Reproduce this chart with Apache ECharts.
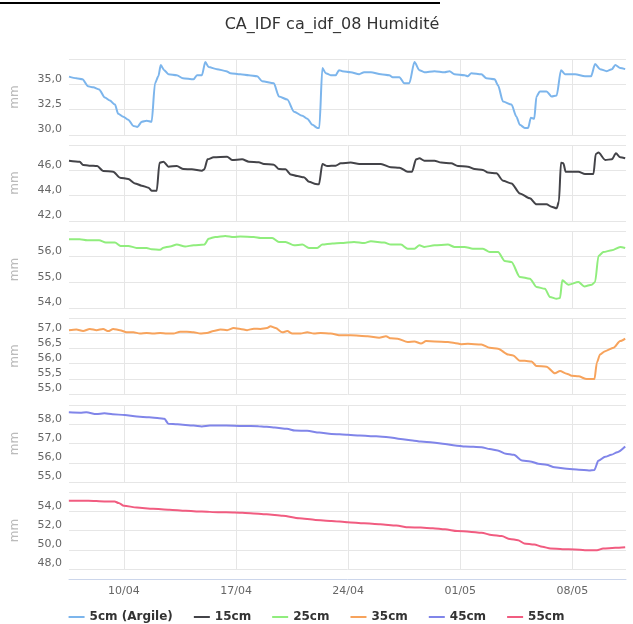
<!DOCTYPE html>
<html><head><meta charset="utf-8">
<script src="https://cdn.jsdelivr.net/npm/echarts@6/dist/echarts.min.js"></script>
<style>html,body{margin:0;padding:0;background:#fff}#c{width:633px;height:624px}</style>
</head><body><div id="c"></div>
<script>
// x values are days since 06/04 00:00
const seriesNames = ['5cm (Argile)', '15cm', '25cm', '35cm', '45cm', '55cm'];
const tickDays = [4, 11, 18, 25, 32];
const tickLabels = ['10/04', '17/04', '24/04', '01/05', '08/05'];
const dayMin = 0.57, dayMax = 35.35;

const yMin = [30, 42, 54, 55, 55, 48];
const yMax = [37.5, 48, 57, 57.5, 59, 56];
const yStep = [2.5, 2, 1, 0.5, 1, 2];

const h5 = [[0.57,35.76],[1.03,35.6],[1.41,35.5],[1.76,34.8],[2.08,34.7],[2.45,34.5],[2.81,33.7],[3.12,33.4],[3.44,33.0],[3.64,32.1],[3.96,31.8],[4.27,31.5],[4.59,30.9],[4.84,30.8],[5.11,31.3],[5.42,31.4],[5.73,31.3],[5.94,35.1],[6.15,35.8],[6.30,36.9],[6.51,36.4],[6.78,36.0],[7.30,35.9],[7.68,35.6],[8.35,35.5],[8.56,35.9],[8.87,35.9],[9.08,37.2],[9.29,36.7],[9.81,36.5],[10.39,36.3],[10.65,36.1],[11.27,36.0],[11.80,35.9],[12.32,35.8],[12.63,35.3],[13.36,35.1],[13.68,33.8],[14.20,33.5],[14.62,32.3],[15.14,31.9],[15.45,31.6],[15.77,31.0],[16.08,30.7],[16.20,30.7],[16.39,36.6],[16.60,36.1],[16.91,35.9],[17.22,35.9],[17.43,36.4],[17.64,36.3],[18.16,36.2],[18.69,36.0],[19.0,36.2],[19.42,36.2],[20.05,36.0],[20.57,35.9],[20.78,35.7],[21.2,35.7],[21.51,35.1],[21.82,35.1],[22.14,37.2],[22.45,36.4],[22.76,36.2],[23.39,36.3],[24.02,36.2],[24.33,36.3],[24.64,36.0],[25.27,35.9],[25.48,35.8],[25.69,36.1],[26.32,36.0],[26.63,35.6],[27.15,35.5],[27.36,34.9],[27.67,33.3],[28.2,33.0],[28.51,31.8],[28.72,31.0],[29.03,30.7],[29.24,30.7],[29.41,31.7],[29.62,31.6],[29.76,33.8],[29.97,34.3],[30.39,34.3],[30.70,33.8],[31.02,33.9],[31.29,36.4],[31.54,36.0],[32.17,36.0],[32.79,35.8],[33.17,35.8],[33.42,37.0],[33.73,36.5],[34.15,36.3],[34.47,36.5],[34.68,36.9],[34.99,36.6],[35.30,36.5]];

const h15 = [[0.57,46.76],[1.24,46.68],[1.45,46.42],[1.83,46.37],[2.33,46.34],[2.70,45.95],[3.33,45.89],[3.75,45.42],[4.27,45.32],[4.69,44.97],[5.11,44.79],[5.53,44.63],[5.73,44.39],[6.05,44.39],[6.22,46.6],[6.47,46.68],[6.78,46.29],[7.30,46.34],[7.72,46.1],[8.24,46.08],[8.87,45.97],[9.02,46.08],[9.22,46.87],[9.60,47.03],[10.44,47.08],[10.75,46.82],[11.38,46.87],[11.80,46.68],[12.42,46.63],[12.74,46.5],[13.36,46.45],[13.68,46.1],[14.09,46.08],[14.41,45.68],[14.83,45.55],[15.24,45.45],[15.56,45.1],[15.98,44.92],[16.18,44.9],[16.39,46.5],[16.70,46.34],[17.22,46.37],[17.54,46.55],[18.16,46.61],[18.69,46.5],[19.42,46.5],[20.05,46.5],[20.67,46.24],[21.2,46.21],[21.72,45.89],[21.99,45.89],[22.24,46.87],[22.45,46.95],[22.76,46.76],[23.39,46.76],[23.81,46.61],[24.43,46.55],[24.85,46.34],[25.48,46.29],[25.90,46.1],[26.42,46.03],[26.73,45.82],[27.26,45.76],[27.67,45.18],[28.2,44.97],[28.72,44.18],[29.35,43.79],[29.76,43.32],[30.39,43.32],[30.70,43.13],[31.02,43.0],[31.16,43.53],[31.29,46.6],[31.44,46.55],[31.58,45.89],[32.38,45.89],[32.79,45.71],[33.32,45.71],[33.46,47.29],[33.63,47.4],[34.05,46.82],[34.47,46.87],[34.72,47.34],[34.99,47.03],[35.30,46.95]];

const h25 = [[0.57,56.68],[1.24,56.68],[1.70,56.64],[2.45,56.64],[2.87,56.55],[3.44,56.55],[3.79,56.42],[4.27,56.42],[4.79,56.34],[5.42,56.34],[5.73,56.29],[6.26,56.27],[6.47,56.35],[6.88,56.40],[7.30,56.47],[7.82,56.40],[8.35,56.44],[9.02,56.47],[9.29,56.70],[9.71,56.77],[10.33,56.81],[10.85,56.77],[11.27,56.79],[12.11,56.77],[12.53,56.73],[13.26,56.73],[13.68,56.57],[14.09,56.57],[14.62,56.44],[15.14,56.47],[15.55,56.34],[16.07,56.34],[16.39,56.47],[17.02,56.51],[17.54,56.53],[18.37,56.57],[19.0,56.53],[19.42,56.6],[20.25,56.55],[20.67,56.47],[21.3,56.47],[21.72,56.31],[22.14,56.31],[22.45,56.44],[22.76,56.38],[23.39,56.44],[24.23,56.47],[24.64,56.38],[25.27,56.38],[25.79,56.31],[26.42,56.31],[26.84,56.18],[27.36,56.18],[27.78,55.83],[28.2,55.79],[28.72,55.21],[29.35,55.14],[29.76,54.82],[30.29,54.75],[30.6,54.43],[31.02,54.36],[31.23,54.39],[31.37,55.08],[31.75,54.91],[32.38,55.01],[32.75,54.84],[33.21,54.91],[33.42,55.01],[33.63,56.03],[33.94,56.18],[34.47,56.25],[34.99,56.38],[35.30,56.34]];

const h35 = [[0.57,57.10],[1.03,57.12],[1.45,57.07],[1.87,57.14],[2.29,57.10],[2.70,57.14],[3.02,57.07],[3.33,57.14],[3.75,57.10],[4.17,57.03],[4.59,57.03],[5.0,56.99],[5.42,57.01],[5.84,56.99],[6.26,57.01],[6.68,56.99],[7.09,56.99],[7.51,57.05],[7.93,57.05],[8.35,57.03],[8.77,56.99],[9.18,57.01],[9.60,57.07],[10.02,57.12],[10.44,57.10],[10.85,57.17],[11.27,57.14],[11.69,57.10],[12.11,57.15],[12.53,57.14],[12.94,57.17],[13.15,57.23],[13.47,57.17],[13.89,57.03],[14.20,57.07],[14.51,56.99],[15.03,56.99],[15.45,57.03],[15.86,56.99],[16.28,57.01],[16.91,56.99],[17.54,56.93],[18.16,56.93],[19.21,56.90],[19.94,56.85],[20.36,56.90],[20.67,56.83],[21.09,56.82],[21.72,56.71],[22.14,56.73],[22.55,56.66],[22.87,56.74],[23.39,56.73],[24.23,56.71],[24.64,56.68],[25.06,56.64],[25.48,56.65],[26.32,56.63],[26.84,56.52],[27.36,56.49],[27.99,56.30],[28.30,56.27],[28.72,56.09],[29.03,56.09],[29.45,56.07],[29.76,55.92],[30.39,55.90],[30.91,55.68],[31.23,55.76],[31.65,55.67],[31.96,55.60],[32.38,55.58],[32.90,55.49],[33.38,55.49],[33.53,56.03],[33.73,56.30],[34.05,56.41],[34.57,56.52],[34.99,56.74],[35.30,56.82]];

const h45 = [[0.56,58.62],[1.27,58.60],[1.65,58.62],[2.28,58.53],[2.78,58.57],[3.29,58.52],[4.05,58.48],[4.81,58.40],[5.57,58.36],[6.20,58.31],[6.53,58.28],[6.78,58.02],[7.34,58.0],[8.35,57.93],[8.86,57.88],[9.37,57.93],[10.38,57.93],[11.39,57.91],[12.41,57.90],[13.42,57.83],[14.18,57.76],[14.68,57.67],[15.44,57.66],[16.20,57.57],[16.96,57.50],[17.97,57.45],[18.73,57.41],[19.75,57.38],[20.51,57.33],[21.27,57.24],[22.03,57.16],[22.53,57.10],[23.29,57.05],[24.05,56.98],[24.68,56.90],[25.32,56.84],[26.33,56.81],[26.84,56.71],[27.34,56.64],[27.85,56.47],[28.35,56.41],[28.86,56.12],[29.37,56.07],[29.87,55.95],[30.38,55.90],[30.89,55.76],[31.65,55.69],[32.41,55.64],[33.04,55.60],[33.37,55.62],[33.62,56.10],[34.05,56.31],[34.43,56.41],[34.81,56.55],[35.30,56.84]];

const h55 = [[0.56,55.09],[1.78,55.09],[2.78,55.02],[3.42,55.02],[3.67,54.85],[4.0,54.57],[4.81,54.39],[5.82,54.25],[6.84,54.15],[7.85,54.04],[8.86,53.97],[9.87,53.90],[10.89,53.87],[11.90,53.80],[12.91,53.69],[13.92,53.52],[14.94,53.27],[15.95,53.10],[16.96,53.0],[17.97,52.86],[18.99,52.75],[20.0,52.65],[21.01,52.51],[21.77,52.33],[22.53,52.30],[23.29,52.23],[24.05,52.12],[24.81,51.95],[25.57,51.88],[26.33,51.77],[26.96,51.53],[27.59,51.42],[28.10,51.11],[28.61,51.0],[28.99,50.66],[29.62,50.55],[30.13,50.31],[30.63,50.13],[31.39,50.06],[32.15,50.03],[32.78,49.96],[33.54,49.96],[33.92,50.13],[34.68,50.20],[35.30,50.27]];

const allData = [h5, h15, h25, h35, h45, h55];
const colors = ['#7cb5ec', '#434348', '#90ed7d', '#f7a35c', '#8085e9', '#f15c80'];
const gridTops = [59, 145, 231, 318, 405, 492];
const gridHeights = [76, 76, 77, 76, 77, 77];
const FONT = '"DejaVu Sans", sans-serif';

const fmt = v => v.toFixed(1).replace('.', ',');

const grids = [], xAxes = [], yAxes = [], series = [];
for (let i = 0; i < 6; i++) {
  const last = i === 5;
  grids.push({ left: 69, right: 7, top: gridTops[i], height: gridHeights[i] });
  xAxes.push({
    gridIndex: i, type: 'value', min: dayMin, max: dayMax,
    splitLine: { show: false },
    axisTick: { show: false },
    axisLine: { show: last, onZero: false, lineStyle: { color: '#ccd6eb', width: 1 } },
    offset: last ? 10 : 0,
    axisLabel: {
      show: last, customValues: tickDays, color: '#666', fontSize: 11, fontFamily: FONT, margin: 7,
      formatter: v => { const k = tickDays.indexOf(v); return k >= 0 ? tickLabels[k] : ''; }
    }
  });
  yAxes.push({
    gridIndex: i, type: 'value', min: yMin[i], max: yMax[i], interval: yStep[i],
    name: 'mm', nameLocation: 'middle', nameGap: 48, nameRotate: 90,
    nameTextStyle: { color: '#bbbbbb', fontSize: 12, fontFamily: FONT },
    axisLine: { show: false }, axisTick: { show: false },
    splitLine: { lineStyle: { color: '#e6e6e6', width: 1 } },
    axisLabel: { showMaxLabel: false, color: '#666', fontSize: 11, fontFamily: FONT, margin: 7,
      verticalAlign: 'bottom', formatter: fmt }
  });
  series.push({
    name: seriesNames[i], type: 'line', xAxisIndex: i, yAxisIndex: i,
    data: allData[i], showSymbol: false, symbol: 'none',
    smooth: 0.25, smoothMonotone: 'x',
    color: colors[i], lineStyle: { width: 2, color: colors[i] },
    z: 3,
    markLine: {
      silent: true, symbol: ['none', 'none'], z: 1, animation: false,
      label: { show: false },
      lineStyle: { color: '#e6e6e6', width: 1, type: 'solid' },
      emphasis: { disabled: true },
      data: tickDays.map(v => ({ xAxis: v }))
    }
  });
}

const chart = echarts.init(document.getElementById('c'), null, { renderer: 'canvas' });
chart.setOption({
  animation: false,
  backgroundColor: '#fff',
  textStyle: { fontFamily: FONT },
  title: {
    text: 'CA_IDF ca_idf_08 Humidité', left: 327, top: 12, textAlign: 'center',
    textStyle: { fontSize: 16, fontWeight: 'normal', color: '#333', fontFamily: FONT }
  },
  graphic: [{ type: 'rect', shape: { x: 0, y: 2, width: 440, height: 2 }, style: { fill: '#000' } }],
  legend: {
    data: seriesNames.map(n => ({ name: n, icon: 'rect' })),
    top: 606, left: 'center', itemWidth: 16, itemHeight: 2, itemGap: 21,
    textStyle: { fontSize: 12, fontWeight: 'bold', color: '#333', fontFamily: FONT }
  },
  grid: grids, xAxis: xAxes, yAxis: yAxes, series: series
});
</script></body></html>
